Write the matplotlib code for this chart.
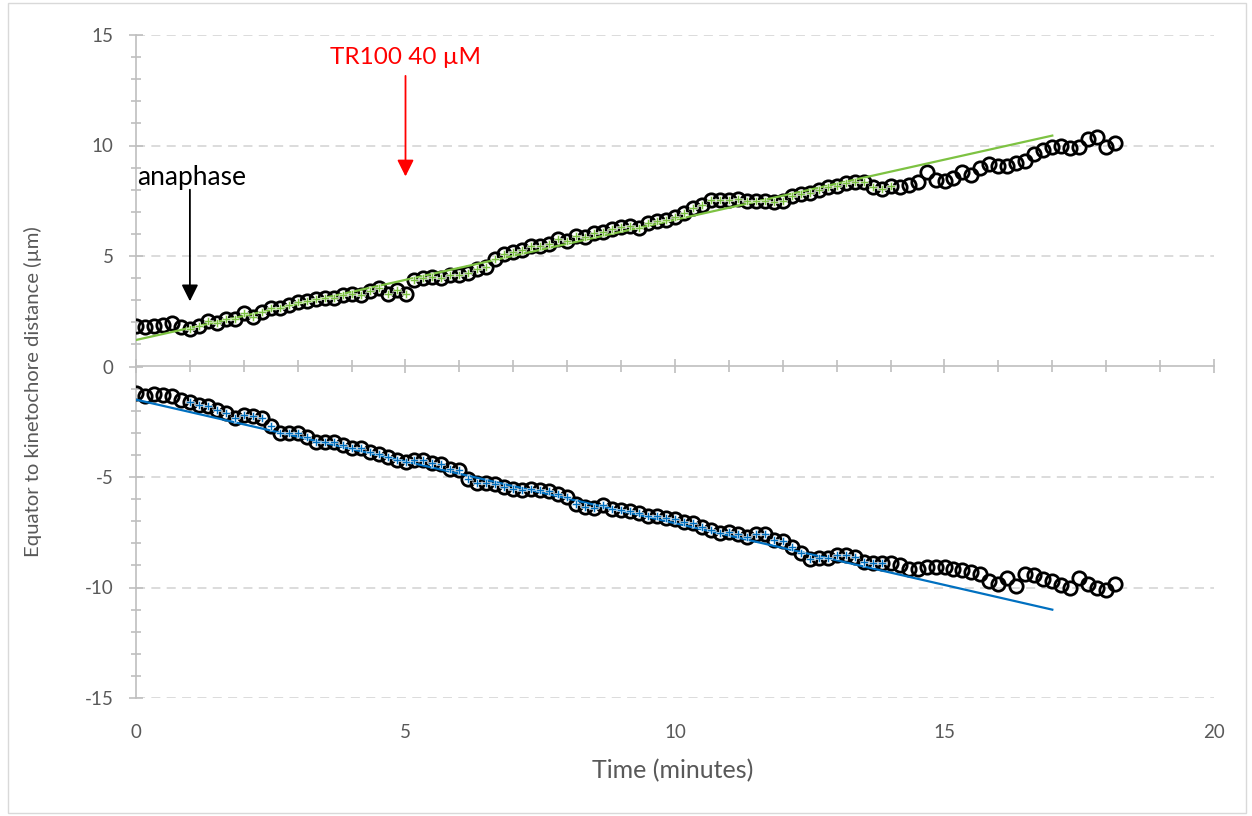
import numpy as np
import matplotlib
matplotlib.use("Agg")
import matplotlib.pyplot as plt
from matplotlib.patches import Rectangle

# Kinetochore position relative to the metaphase equator, one frame every 10 s
FRAME_MIN = 1 / 6
upper_um = [
    1.85, 1.80, 1.85, 1.90, 1.95, 1.80, 1.70, 1.85, 2.05, 1.95,
    2.15, 2.15, 2.40, 2.25, 2.45, 2.65, 2.65, 2.80, 2.90, 2.95,
    3.05, 3.10, 3.10, 3.25, 3.30, 3.25, 3.40, 3.55, 3.30, 3.45,
    3.30, 3.90, 4.00, 4.05, 4.00, 4.15, 4.15, 4.25, 4.40, 4.50,
    4.85, 5.10, 5.20, 5.25, 5.45, 5.45, 5.55, 5.75, 5.70, 5.90,
    5.85, 6.05, 6.10, 6.20, 6.30, 6.35, 6.25, 6.50, 6.60, 6.65,
    6.75, 6.95, 7.15, 7.30, 7.55, 7.55, 7.55, 7.60, 7.50, 7.50,
    7.50, 7.45, 7.50, 7.70, 7.80, 7.85, 8.00, 8.10, 8.15, 8.30,
    8.35, 8.35, 8.10, 8.05, 8.15, 8.10, 8.20, 8.35, 8.80, 8.45,
    8.40, 8.55, 8.80, 8.65, 9.00, 9.15, 9.05, 9.05, 9.20, 9.30,
    9.60, 9.80, 9.95, 10.00, 9.90, 9.95, 10.30, 10.40, 9.95, 10.10,
]
lower_um = [
    -1.20, -1.35, -1.25, -1.30, -1.35, -1.50, -1.60, -1.75, -1.80, -1.95,
    -2.10, -2.35, -2.20, -2.25, -2.35, -2.70, -3.00, -3.00, -3.00, -3.20,
    -3.40, -3.40, -3.40, -3.55, -3.70, -3.70, -3.85, -3.95, -4.10, -4.25,
    -4.30, -4.25, -4.25, -4.35, -4.40, -4.65, -4.70, -5.10, -5.25, -5.25,
    -5.30, -5.45, -5.55, -5.60, -5.55, -5.60, -5.65, -5.75, -5.90, -6.20,
    -6.35, -6.40, -6.25, -6.45, -6.50, -6.55, -6.65, -6.75, -6.75, -6.85,
    -6.90, -7.05, -7.10, -7.25, -7.40, -7.55, -7.50, -7.60, -7.70, -7.60,
    -7.60, -7.85, -7.90, -8.15, -8.45, -8.70, -8.65, -8.65, -8.55, -8.55,
    -8.60, -8.85, -8.90, -8.90, -8.90, -9.00, -9.15, -9.15, -9.05, -9.05,
    -9.05, -9.15, -9.20, -9.30, -9.40, -9.70, -9.85, -9.55, -9.95, -9.40,
    -9.45, -9.60, -9.70, -9.90, -10.00, -9.55, -9.85, -10.00, -10.10, -9.85,
]
minutes = np.arange(len(upper_um)) * FRAME_MIN
upper_um = np.array(upper_um)
lower_um = np.array(lower_um)

# Frames used for the linear fits, and the fitted lines (slope, intercept)
upper_fit_window = (1.0, 14.0)
lower_fit_window = (1.0, 13.9)
upper_fit = (0.544, 1.20)
lower_fit = (-0.559, -1.50)
trend_range = (0.0, 17.0)

# Event markers
anaphase_time = 1.0
drug_time = 5.0
drug_label = "TR100 40 \u00b5M"

x_ticks = [0, 5, 10, 15, 20]
y_ticks = [-15, -10, -5, 0, 5, 10, 15]

GREEN = "#7DC242"
BLUE = "#0070C0"
AXIS_GRAY = "#BFBFBF"
GRID_GRAY = "#D9D9D9"
TEXT_GRAY = "#595959"

plt.rcParams["font.family"] = ["Lato", "DejaVu Sans"]
plt.rcParams["axes.unicode_minus"] = False

W, H = 1252, 816
fig = plt.figure(figsize=(W / 100, H / 100), dpi=100)
fig.patch.set_facecolor("white")
fig.patches.append(Rectangle((8 / W, 3 / H), (1246 - 8) / W, (813 - 3) / H,
                             transform=fig.transFigure, fill=False,
                             edgecolor=GRID_GRAY, linewidth=1.0))

ax = fig.add_axes([136 / W, 1 - 698 / H, (1214 - 136) / W, (698 - 35) / H])
ax.set_xlim(0, 20)
ax.set_ylim(-15, 15)

# dashed horizontal gridlines
for yv in y_ticks:
    if yv != 0:
        ax.axhline(yv, color=GRID_GRAY, lw=1.3, ls=(0, (5, 3.5)), zorder=0)

# raw measurements (open circles)
circle_kw = dict(ls="none", marker="o", ms=9.6, mfc="none", mec="black",
                 mew=2.0, zorder=3)
ax.plot(minutes, upper_um, **circle_kw)
ax.plot(minutes, lower_um, **circle_kw)

# linear trend lines
tx = np.array(trend_range)
ax.plot(tx, upper_fit[0] * tx + upper_fit[1], color=GREEN, lw=1.6, zorder=4)
ax.plot(tx, lower_fit[0] * tx + lower_fit[1], color=BLUE, lw=1.6, zorder=4)

# frames included in each fit
m_up = (minutes >= upper_fit_window[0] - 1e-9) & (minutes <= upper_fit_window[1] + 1e-9)
m_lo = (minutes >= lower_fit_window[0] - 1e-9) & (minutes <= lower_fit_window[1] + 1e-9)
fit_kw = dict(ls="none", marker="P", ms=6, mew=0.4, mec="white", zorder=5)
ax.plot(minutes[m_up], upper_um[m_up], mfc=GREEN, **fit_kw)
ax.plot(minutes[m_lo], lower_um[m_lo], mfc=BLUE, **fit_kw)

# annotations
ax.text(0.02, 8.55, "anaphase", fontsize=19, color="black",
        ha="left", va="center")
ax.annotate("", xy=(anaphase_time, 2.95), xytext=(anaphase_time, 8.0),
            arrowprops=dict(arrowstyle="-|>", color="black", lw=1.3,
                            mutation_scale=25, shrinkA=0, shrinkB=0))
ax.text(drug_time, 14.0, drug_label, fontsize=17.5, color="#FF0000",
        ha="center", va="center")
ax.annotate("", xy=(drug_time, 8.6), xytext=(drug_time, 13.15),
            arrowprops=dict(arrowstyle="-|>", color="#FF0000", lw=1.3,
                            mutation_scale=25, shrinkA=0, shrinkB=0))

# spines / ticks of the main axes
for side in ("top", "right", "bottom"):
    ax.spines[side].set_visible(False)
ax.spines["left"].set_color(AXIS_GRAY)
ax.spines["left"].set_linewidth(1.2)
ax.set_yticks(y_ticks)
ax.set_yticks(np.arange(-15, 16, 1), minor=True)
ax.tick_params(axis="y", which="major", direction="inout", length=10,
               width=1.2, color=AXIS_GRAY, labelcolor=TEXT_GRAY,
               labelsize=13.5, pad=11)
ax.tick_params(axis="y", which="minor", direction="inout", length=7,
               width=1.2, color=AXIS_GRAY)
ax.set_xticks(x_ticks)
ax.tick_params(axis="x", which="major", length=0, labelcolor=TEXT_GRAY,
               labelsize=13.5, pad=19)

# horizontal axis line through y = 0
sec = ax.secondary_xaxis(0.5)
for sp in sec.spines.values():
    sp.set_color(AXIS_GRAY)
    sp.set_linewidth(1.2)
sec.set_xticks(x_ticks)
sec.set_xticks(np.arange(0, 21, 1), minor=True)
sec.tick_params(axis="x", which="both", direction="inout", color=AXIS_GRAY,
                width=1.2, labeltop=False, labelbottom=False)
sec.tick_params(axis="x", which="major", length=10)
sec.tick_params(axis="x", which="minor", length=8)

fig.text(673 / W, 1 - 771 / H, "Time (minutes)", fontsize=18,
         color=TEXT_GRAY, ha="center", va="center")
fig.text(33 / W, 1 - 392 / H, "Equator to kinetochore distance (\u00b5m)",
         fontsize=14.6, color=TEXT_GRAY, ha="center", va="center", rotation=90)

fig.savefig("out.png", dpi=100)
